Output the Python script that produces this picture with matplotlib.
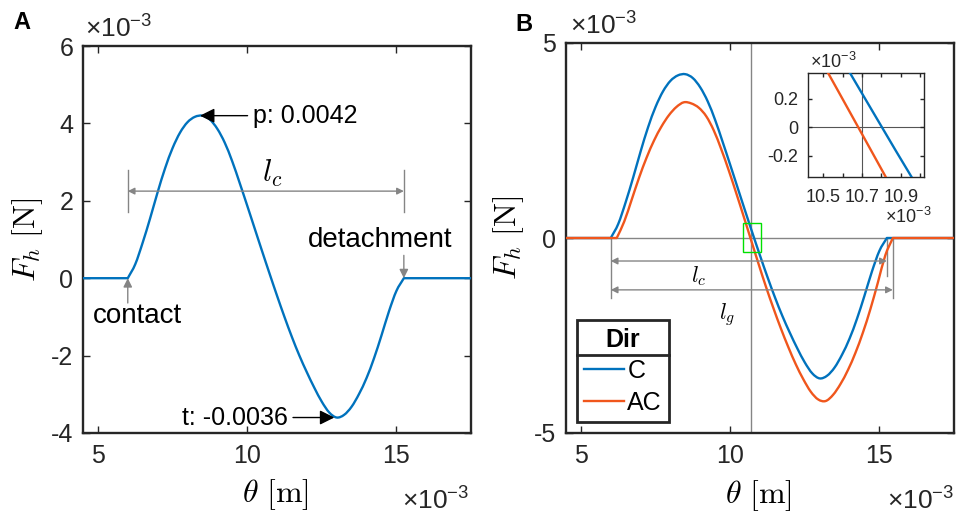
import matplotlib
matplotlib.use("Agg")
import matplotlib.pyplot as plt
from matplotlib.lines import Line2D
from matplotlib.patches import Rectangle, PathPatch
from matplotlib.path import Path

plt.rcParams["font.family"] = ["Liberation Sans", "DejaVu Sans"]
plt.rcParams["mathtext.fontset"] = "cm"
plt.rcParams["mathtext.rm"] = "Liberation Sans"
plt.rcParams["mathtext.it"] = "Liberation Sans:italic"
plt.rcParams["axes.unicode_minus"] = False

# ---- data (theta in 1e-3 m, force in 1e-3 N) ----
theta_c = [6.00, 6.25, 6.50, 6.75, 7.00, 7.25, 7.50, 7.75, 8.00, 8.25,
           8.50, 8.75, 9.00, 9.25, 9.50, 9.75, 10.00, 10.25, 10.50, 10.75,
           11.00, 11.25, 11.50, 11.75, 12.00, 12.25, 12.50, 12.75, 13.00, 13.25,
           13.50, 13.75, 14.00, 14.25, 14.50, 14.75, 15.00, 15.25]
force_c = [0.00, 0.36, 0.92, 1.55, 2.22, 2.84, 3.36, 3.76, 4.03, 4.17,
           4.20, 4.10, 3.86, 3.50, 3.02, 2.46, 1.88, 1.29, 0.70, 0.12,
           -0.45, -1.00, -1.52, -2.00, -2.43, -2.83, -3.19, -3.47, -3.60, -3.53,
           -3.32, -2.99, -2.58, -2.07, -1.48, -0.86, -0.33, 0.00]

theta_ac = [6.20, 6.45, 6.70, 6.95, 7.20, 7.45, 7.70, 7.95, 8.20, 8.45,
            8.70, 8.95, 9.20, 9.45, 9.70, 9.95, 10.20, 10.45, 10.70, 10.95,
            11.20, 11.45, 11.70, 11.95, 12.20, 12.45, 12.70, 12.95, 13.20, 13.45,
            13.70, 13.95, 14.20, 14.45, 14.70, 14.95, 15.20, 15.45]
force_ac = [0.00, 0.42, 0.98, 1.55, 2.06, 2.50, 2.86, 3.15, 3.36, 3.48,
            3.45, 3.34, 3.12, 2.76, 2.28, 1.74, 1.16, 0.56, -0.05, -0.66,
            -1.25, -1.80, -2.32, -2.80, -3.24, -3.62, -3.94, -4.14, -4.18, -4.02,
            -3.74, -3.38, -2.94, -2.42, -1.82, -1.14, -0.44, 0.00]

series_labels = ["C", "AC"]
x_range = (4.5, 17.5)
xticks = [5, 10, 15]
yticks_a = [-4, -2, 0, 2, 4, 6]
yticks_b = [-5, 0, 5]
theta_ref = 10.7
inset_xlim = (10.42, 11.02)
inset_ylim = (-0.35, 0.38)
inset_xticks = [10.5, 10.6, 10.7, 10.8, 10.9, 11.0]
inset_xticklabels = ["10.5", "", "10.7", "", "10.9", ""]
inset_yticks = [-0.2, 0, 0.2]
inset_yticklabels = ["-0.2", "0", "0.2"]

BLUE = "#0072BD"
ORANGE = "#F0561C"
GRAY = "#858585"
DARK = "#262626"
W, H = 956, 520


def force_path(theta, force):
    """Zero force before contact, a smooth curve through the samples, zero after detachment."""
    n = len(theta)
    tang = []
    for i in range(n):
        if i == 0:
            d = (theta[1] - theta[0], force[1] - force[0])
        elif i == n - 1:
            d = (theta[-1] - theta[-2], force[-1] - force[-2])
        else:
            d = ((theta[i + 1] - theta[i - 1]) / 2, (force[i + 1] - force[i - 1]) / 2)
        tang.append(d)
    verts = [(x_range[0], 0.0), (theta[0], force[0])]
    codes = [Path.MOVETO, Path.LINETO]
    for i in range(n - 1):
        verts += [(theta[i] + tang[i][0] / 3, force[i] + tang[i][1] / 3),
                  (theta[i + 1] - tang[i + 1][0] / 3, force[i + 1] - tang[i + 1][1] / 3),
                  (theta[i + 1], force[i + 1])]
        codes += [Path.CURVE4] * 3
    verts.append((x_range[1], 0.0))
    codes.append(Path.LINETO)
    return Path(verts, codes)


def draw_series(ax, theta, force, color, lw=1.7, zorder=3):
    ax.add_patch(PathPatch(force_path(theta, force), fill=False, edgecolor=color,
                           lw=lw, capstyle="round", joinstyle="round", zorder=zorder))


fig = plt.figure(figsize=(W / 100, H / 100), dpi=100)


def px_axes(left, top, right, bottom):
    return fig.add_axes([left / W, 1 - bottom / H, (right - left) / W, (bottom - top) / H])


def style(ax, size=18, lw=1.7):
    for s in ax.spines.values():
        s.set_linewidth(lw)
        s.set_color(DARK)
    ax.tick_params(direction="in", top=True, right=True, length=5, width=1,
                   colors=DARK, labelsize=size)
    ax.tick_params(axis="x", pad=8)
    ax.tick_params(axis="y", pad=7)


def exponent(x, y, size=19):
    fig.text(x / W, 1 - y / H, r"$\times10^{-3}$", fontsize=size, color=DARK,
             math_fontfamily="custom", ha="left", va="baseline")


def dim_arrow(ax, x0, x1, y):
    ax.annotate("", xy=(x1, y), xytext=(x0, y),
                arrowprops=dict(arrowstyle="<|-|>", color=GRAY, lw=1.0,
                                mutation_scale=10, shrinkA=0, shrinkB=0))


def pointer(ax, x, y0, y1, color=GRAY, scale=13):
    ax.annotate("", xy=(x, y1), xytext=(x, y0),
                arrowprops=dict(arrowstyle="-|>", color=color, lw=1.0,
                                mutation_scale=scale, shrinkA=0, shrinkB=0))


def axis_labels(ax, ylab_x):
    ax.set_xlabel(r"$\theta\ [\mathrm{m}]$", fontsize=23)
    ax.set_ylabel(r"$F_h\ [\mathrm{N}]$", fontsize=23)
    ax.xaxis.label.set_va("center")
    ax.yaxis.label.set_va("center")
    ax.xaxis.set_label_coords(0.495, -0.16)
    ax.yaxis.set_label_coords(ylab_x, 0.5)


# ---------------- panel A ----------------
axA = px_axes(83, 46, 471, 433)
style(axA)
draw_series(axA, theta_c, force_c, BLUE)
axA.set_xlim(*x_range)
axA.set_ylim(yticks_a[0], yticks_a[-1])
axA.set_xticks(xticks)
axA.set_yticks(yticks_a)
axis_labels(axA, -0.144)

i_max = force_c.index(max(force_c))
i_min = force_c.index(min(force_c))
axA.annotate(f"p: {force_c[i_max] / 1000:.4f}", xy=(theta_c[i_max] - 0.08, force_c[i_max]),
             xytext=(10.2, 4.2), ha="left", va="center", fontsize=18,
             arrowprops=dict(arrowstyle="-|>", color="k", lw=1.0,
                             mutation_scale=22, shrinkA=2, shrinkB=0))
axA.annotate(f"t: {force_c[i_min] / 1000:.4f}", xy=(theta_c[i_min] - 0.08, force_c[i_min]),
             xytext=(11.35, -3.6), ha="right", va="center", fontsize=18,
             arrowprops=dict(arrowstyle="-|>", color="k", lw=1.0,
                             mutation_scale=22, shrinkA=2, shrinkB=0))

start_c, end_c = theta_c[0], theta_c[-1]
for x in (start_c, end_c):
    axA.plot([x, x], [1.7, 2.8], color=GRAY, lw=1.0)
dim_arrow(axA, start_c, end_c, 2.25)
axA.text(10.84, 2.72, r"$l_c$", fontsize=22, ha="center", va="center")

pointer(axA, start_c, -0.64, 0.0)
axA.text(6.33, -0.97, "contact", fontsize=20, ha="center", va="center")
pointer(axA, end_c, 0.59, 0.0)
axA.text(14.46, 0.98, "detachment", fontsize=20, ha="center", va="center")

fig.text(13 / W, 1 - 29 / H, "A", fontsize=17, fontweight="bold")
exponent(85, 38)
exponent(402, 510)

# ---------------- panel B ----------------
axB = px_axes(566, 43, 954, 433)
style(axB)
axB.axhline(0, color=GRAY, lw=1.0, zorder=1)
axB.axvline(theta_ref, color=GRAY, lw=1.0, zorder=1)
draw_series(axB, theta_c, force_c, BLUE)
draw_series(axB, theta_ac, force_ac, ORANGE)
axB.set_xlim(*x_range)
axB.set_ylim(yticks_b[0], yticks_b[-1])
axB.set_xticks(xticks)
axB.set_yticks(yticks_b)
axis_labels(axB, -0.149)

axB.add_patch(Rectangle((inset_xlim[0], inset_ylim[0]), inset_xlim[1] - inset_xlim[0],
                        inset_ylim[1] - inset_ylim[0], fill=False,
                        edgecolor="#00E000", lw=1.0, zorder=4))

start_all = min(theta_c[0], theta_ac[0])
end_ac = theta_ac[-1]
axB.plot([start_all, start_all], [0, -1.55], color=GRAY, lw=1.0)
axB.plot([end_c, end_c], [0, -0.97], color=GRAY, lw=1.0)
axB.plot([end_ac, end_ac], [0, -1.55], color=GRAY, lw=1.0)
dim_arrow(axB, start_all, end_c, -0.59)
dim_arrow(axB, start_all, end_ac, -1.33)
axB.text(8.95, -0.97, r"$l_c$", fontsize=16, ha="center", va="center")
axB.text(9.9, -1.95, r"$l_g$", fontsize=16, ha="center", va="center")

handles = [Line2D([], [], color=BLUE, lw=1.7, label=series_labels[0]),
           Line2D([], [], color=ORANGE, lw=1.7, label=series_labels[1])]
leg = axB.legend(handles=handles, title="Dir", loc="lower left",
                 bbox_to_anchor=(0.028, 0.028), borderaxespad=0, fontsize=18,
                 title_fontproperties={"weight": "bold", "size": 18},
                 frameon=True, fancybox=False, edgecolor=DARK, framealpha=1,
                 handlelength=1.6, handletextpad=0.12, borderpad=0.3,
                 labelspacing=0.3)
leg.get_frame().set_linewidth(2.0)

fig.text(515 / W, 1 - 31 / H, "B", fontsize=17, fontweight="bold")
exponent(570, 35)
exponent(887, 510)

# ---------------- inset ----------------
axI = px_axes(808, 73, 924, 177)
style(axI, size=13, lw=1.0)
axI.tick_params(length=3)
axI.tick_params(axis="x", pad=9)
axI.tick_params(axis="y", pad=7)
axI.axhline(0, color="#555555", lw=0.8, zorder=1)
axI.axvline(theta_ref, color="#555555", lw=0.8, zorder=1)
draw_series(axI, theta_c, force_c, BLUE)
draw_series(axI, theta_ac, force_ac, ORANGE)
axI.set_xlim(*inset_xlim)
axI.set_ylim(*inset_ylim)
axI.set_xticks(inset_xticks)
axI.set_xticklabels(inset_xticklabels)
axI.set_yticks(inset_yticks)
axI.set_yticklabels(inset_yticklabels)
exponent(810, 68, size=13)
exponent(885, 223, size=13)

# separator line under the legend title
fig.canvas.draw()
r = fig.canvas.get_renderer()
fb = leg.get_frame().get_window_extent(r)
tb = leg.get_title().get_window_extent(r)
y_sep = tb.y0 - 3
fig.add_artist(Line2D([fb.x0 / W, fb.x1 / W], [y_sep / H, y_sep / H],
                      color=DARK, lw=2.0, transform=fig.transFigure))

fig.savefig("out.png", dpi=100)
